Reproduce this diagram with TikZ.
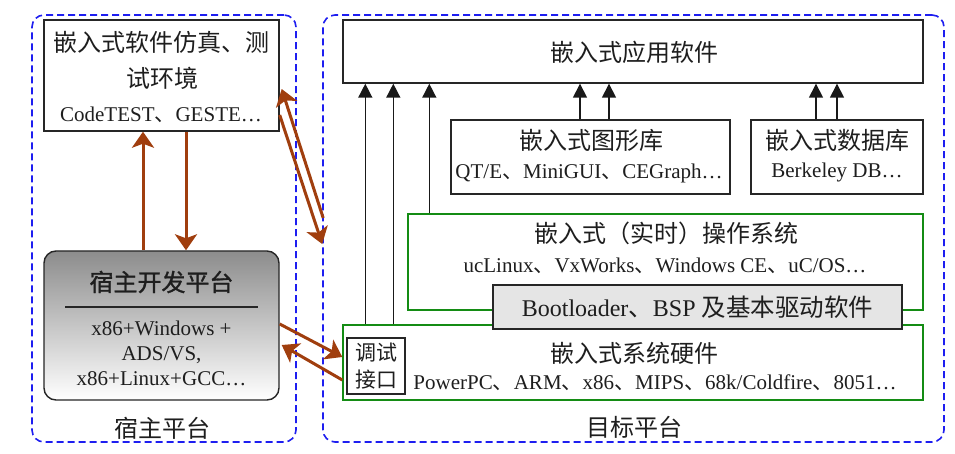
\documentclass[tikz,border=0pt]{standalone}
\usepackage{fontspec}
\setmainfont{Liberation Serif}
\newfontfamily\cjk{Noto Sans CJK SC}
\newfontfamily\cjkb[FakeBold=1.2]{Noto Sans CJK SC}
\usetikzlibrary{arrows.meta}
\definecolor{brn}{RGB}{160,62,14}
\definecolor{dblue}{RGB}{30,30,240}
\definecolor{grn}{RGB}{20,140,20}
\definecolor{txt}{RGB}{30,30,30}
\newcommand{\dn}{{\cjk 、}}
\begin{document}
\begin{tikzpicture}[x=1pt,y=-1pt,
  dashbox/.style={draw=dblue, line width=1.6pt, dash pattern=on 7pt off 4pt, rounded corners=12pt, inner sep=0pt},
  bbox/.style={draw=black!85, line width=1.4pt, fill=white, inner sep=0pt},
  gbox/.style={draw=grn, line width=1.4pt, fill=white, inner sep=0pt},
  zh/.style={font=\cjk\fontsize{24}{28}\selectfont, text=txt, inner sep=0pt},
  la/.style={font=\fontsize{21}{25}\selectfont, text=txt, inner sep=0pt},
  blk/.style={-{Triangle[width=14pt,length=14pt]}, line width=1.5pt, draw=black!90},
  brw/.style={-{Stealth[width=22pt,length=16pt,inset=4pt]}, draw=brn, line width=3pt},
]
\useasboundingbox (0,0) rectangle (955,454);
\fill[white] (0,0) rectangle (955,454);

% platform containers
\node[dashbox, minimum width=264pt, minimum height=427pt] (dashL) at (164,228.5) {};
\node[dashbox, minimum width=621pt, minimum height=427pt] (dashR) at (633.5,228.5) {};
\node[zh] (lblL) at (162,428) {宿主平台};
\node[zh] (lblR) at (634,427) {目标平台};

% host side
\node[bbox, minimum width=235pt, minimum height=111pt] (test) at (161.5,75.5) {};
\node[zh] (t1) at (161.5,42) {嵌入式软件仿真、测};
\node[zh] (t2) at (162,78) {试环境};
\node[la] (t3) at (161,115) {CodeTEST\dn GESTE…};

\node[draw=black!85, line width=1.4pt, rounded corners=12pt, top color=black!45, bottom color=white, minimum width=235pt, minimum height=149pt, inner sep=0pt] (host) at (161.5,325.5) {};
\node[zh, font=\cjkb\fontsize{24}{28}\selectfont] (h1) at (161.5,282) {宿主开发平台};
\draw[line width=1.4pt, black!85] (65,307) -- (258,307);
\node[la, align=center, font=\fontsize{21}{25}\selectfont] (h2) at (161.5,353) {x86+Windows +\\ADS/VS,\\x86+Linux+GCC…};

% target side
\node[bbox, minimum width=580pt, minimum height=63pt] (app) at (633,51.5) {};
\node[zh] (a1) at (634,52) {嵌入式应用软件};

\node[bbox, minimum width=279pt, minimum height=74pt] (gfx) at (590.5,157) {};
\node[zh] (g1) at (591,140) {嵌入式图形库};
\node[la] (g2) at (589,173) {QT/E\dn MiniGUI\dn CEGraph…};

\node[bbox, minimum width=172pt, minimum height=74pt] (db) at (837,157) {};
\node[zh] (d1) at (837,140) {嵌入式数据库};
\node[la] (d2) at (837,172) {Berkeley DB…};

\node[gbox, minimum width=515pt, minimum height=96pt] (os) at (665.5,262) {};
\node[zh] (o1) at (666,233) {嵌入式（实时）操作系统};
\node[la] (o2) at (665,266) {ucLinux\dn VxWorks\dn Windows CE\dn uC/OS…};

\node[gbox, minimum width=580pt, minimum height=75pt] (hw) at (633,362.5) {};
\node[zh] (w1) at (634,353) {嵌入式系统硬件};
\node[la] (w2) at (655,383) {PowerPC\dn ARM\dn x86\dn MIPS\dn 68k/Coldfire\dn 8051…};

\node[draw=black!85, line width=1.4pt, fill=black!10, minimum width=409pt, minimum height=44pt, inner sep=0pt, text=txt, font=\fontsize{24}{28}\selectfont] (boot) at (697.5,307) {Bootloader{\cjk\fontsize{24.5}{28}\selectfont 、}BSP {\cjk\fontsize{24.5}{28}\selectfont 及基本驱动软件}};

\node[bbox, minimum width=58pt, minimum height=56pt, align=center, text=txt, font=\cjk\fontsize{21}{27}\selectfont] (dbg) at (376,366) {调试\\接口};

% black arrows
\draw[blk] ([xshift=23pt]hw.north west) -- ([xshift=23pt]hw.north west |- app.south);
\draw[blk] ([xshift=51pt]hw.north west) -- ([xshift=51pt]hw.north west |- app.south);
\draw[blk] ([xshift=22pt]os.north west) -- ([xshift=22pt]os.north west |- app.south);
\draw[blk] ([xshift=-10.5pt]gfx.north) -- ([xshift=-10.5pt]gfx.north |- app.south);
\draw[blk] ([xshift=18.5pt]gfx.north) -- ([xshift=18.5pt]gfx.north |- app.south);
\draw[blk] ([xshift=-21pt]db.north) -- ([xshift=-21pt]db.north |- app.south);
\draw[blk] (db.north) -- (db.north |- app.south);

% brown arrows
\draw[brw] ([xshift=-18.5pt]host.north) -- ([xshift=-18.5pt]test.south);
\draw[brw] ([xshift=24.5pt]test.south) -- ([xshift=24.5pt]host.north);
\draw[brw] ([xshift=1pt,yshift=10.5pt]dashR.west) -- ([xshift=2pt,yshift=-13.5pt]test.east);
\draw[brw] ([yshift=-39.5pt]test.east) -- ([yshift=-15.5pt]dashR.west);
\draw[brw] ([yshift=1.5pt]host.east) -- ([yshift=5.5pt]hw.west);
\draw[brw] ([yshift=-17.5pt]hw.west) -- ([xshift=2pt,yshift=-19.5pt]host.east);
\end{tikzpicture}
\end{document}
